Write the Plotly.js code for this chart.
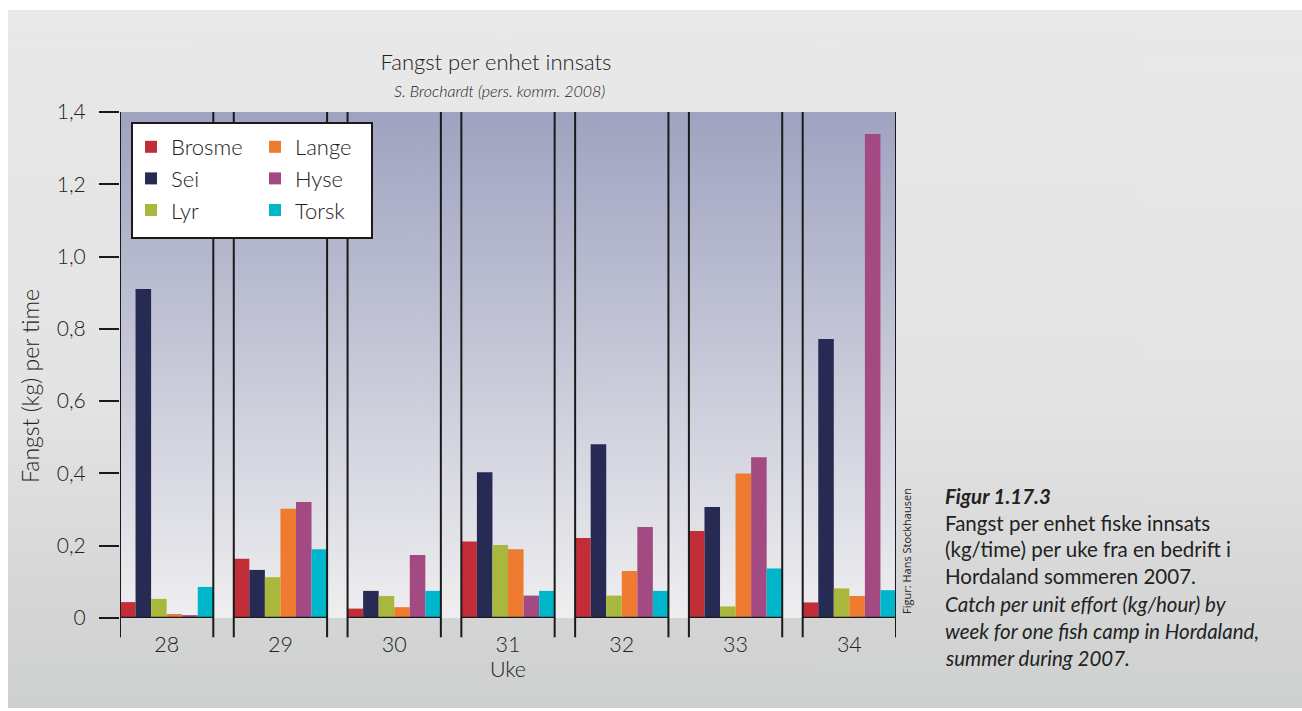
<!DOCTYPE html>
<html>
<head>
<meta charset="utf-8">
<script src="https://cdn.plot.ly/plotly-3.0.1.min.js"></script>
<style>html,body{margin:0;padding:0;background:#fff;}#chart{width:1302px;height:711px;}</style>
</head>
<body>
<div id="chart"></div>
<script>
// ---- data ----
var weeks = ['28', '29', '30', '31', '32', '33', '34'];
var brosme = [0.044, 0.164, 0.026, 0.212, 0.221, 0.241, 0.043];
var sei    = [0.910, 0.133, 0.075, 0.403, 0.481, 0.307, 0.772];
var lyr    = [0.053, 0.113, 0.061, 0.202, 0.062, 0.032, 0.082];
var lange  = [0.011, 0.302, 0.030, 0.190, 0.130, 0.400, 0.061];
var hyse   = [0.008, 0.321, 0.174, 0.062, 0.252, 0.445, 1.339];
var torsk  = [0.086, 0.190, 0.075, 0.075, 0.075, 0.137, 0.077];
var yTickVals = [0, 0.2, 0.4, 0.6, 0.8, 1.0, 1.2, 1.4];
var yTickText = ['0', '0,2', '0,4', '0,6', '0,8', '1,0', '1,2', '1,4'];

var W = 1302, H = 711;
var M = {l: 120, r: 406, t: 112, b: 93};
var pw = W - M.l - M.r, ph = H - M.t - M.b;
function px2x(px) { return (px - M.l) / pw; }
function px2y(py) { return (H - M.b - py) / ph; }

var FONT = 'Lato, "Open Sans", sans-serif';
var TXT = '#222222';

function gradURL(stops) {
  var c = document.createElement('canvas');
  c.width = 4; c.height = 256;
  var g = c.getContext('2d');
  var gr = g.createLinearGradient(0, 0, 0, 256);
  stops.forEach(function (s) { gr.addColorStop(s[0], s[1]); });
  g.fillStyle = gr; g.fillRect(0, 0, 4, 256);
  return c.toDataURL('image/png');
}

var series = [
  {name: 'Brosme', y: brosme, color: '#c12e38', legend: 'legend'},
  {name: 'Sei',    y: sei,    color: '#272b53', legend: 'legend'},
  {name: 'Lyr',    y: lyr,    color: '#a9b73d', legend: 'legend'},
  {name: 'Lange',  y: lange,  color: '#ef7b30', legend: 'legend2'},
  {name: 'Hyse',   y: hyse,   color: '#a44a83', legend: 'legend2'},
  {name: 'Torsk',  y: torsk,  color: '#00b6ca', legend: 'legend2'}
];

var traces = series.map(function (s) {
  return {
    type: 'bar', name: s.name, x: weeks, y: s.y,
    marker: {color: s.color, line: {width: 0}},
    legend: s.legend, hoverinfo: 'name+y'
  };
});

var half = 0.41;
var shapes = [];
weeks.forEach(function (w, i) {
  [i - half, i + half].forEach(function (xv) {
    shapes.push({type: 'line', xref: 'x', yref: 'paper', x0: xv, x1: xv,
      y0: -0.038, y1: 1, line: {color: '#1a1a1a', width: 2}, layer: 'above'});
  });
  shapes.push({type: 'line', xref: 'x', yref: 'y', x0: i - half, x1: i + half,
    y0: 0, y1: 0, line: {color: '#1a1a1a', width: 2.5}, layer: 'above'});
});
// legend box
shapes.push({type: 'rect', xref: 'paper', yref: 'paper',
  x0: px2x(132), x1: px2x(372), y0: px2y(238), y1: px2y(123),
  fillcolor: '#ffffff', line: {color: '#1a1a1a', width: 2}, layer: 'above'});

var capX = px2x(943);
var capLines = [
  ['<b><i>Figur 1.17.3</i></b>', 496],
  ['Fangst per enhet fiske innsats', 523],
  ['(kg/time) per uke fra en bedrift i', 549],
  ['Hordaland sommeren 2007.', 576],
  ['<i>Catch per unit effort (kg/hour) by</i>', 604],
  ['<i>week for one fish camp in Hordaland,</i>', 631],
  ['<i>summer during 2007.</i>', 658]
];
var annotations = capLines.map(function (l) {
  return {xref: 'paper', yref: 'paper', x: capX, y: px2y(l[1]), xanchor: 'left', yanchor: 'middle',
    text: l[0], showarrow: false, font: {family: FONT, size: 20.5, color: TXT}};
});
annotations.push({xref: 'paper', yref: 'paper', x: px2x(499), y: px2y(90), xanchor: 'center', yanchor: 'middle',
  text: '<i>S. Brochardt (pers. komm. 2008)</i>', showarrow: false,
  font: {family: FONT, size: 16, color: TXT, weight: 300}});
annotations.push({xref: 'paper', yref: 'paper', x: px2x(906), y: px2y(551), xanchor: 'center', yanchor: 'middle',
  text: 'Figur: Hans Stockhausen', textangle: -90, showarrow: false,
  font: {family: '"Open Sans", sans-serif', size: 11, color: TXT}});
// y-axis title (placed like the original, slightly below the axis centre)
annotations.push({xref: 'paper', yref: 'paper', x: px2x(30), y: px2y(386), xanchor: 'center', yanchor: 'middle',
  text: 'Fangst (kg) per time', textangle: -90, showarrow: false,
  font: {family: FONT, size: 23, color: TXT, weight: 300}});

var layout = {
  width: W, height: H,
  margin: M,
  paper_bgcolor: '#ffffff',
  plot_bgcolor: 'rgba(0,0,0,0)',
  font: {family: FONT, color: TXT},
  title: {text: 'Fangst per enhet innsats', xref: 'container', yref: 'container',
    x: 496 / W, y: 1 - 62 / H, xanchor: 'center', yanchor: 'middle',
    font: {family: FONT, size: 22, color: TXT, weight: 300}},
  barmode: 'group', bargap: 0.18, bargroupgap: 0,
  xaxis: {type: 'category', range: [-half, weeks.length - 1 + half], showline: false, showgrid: false,
    zeroline: false, ticks: '', tickfont: {family: FONT, size: 21.5, color: TXT, weight: 300},
    ticklabelstandoff: 11,
    title: {text: 'Uke', standoff: 0, font: {family: FONT, size: 21.5, color: TXT, weight: 300}}},
  yaxis: {range: [0, 1.4], tickvals: yTickVals, ticktext: yTickText, showline: false, showgrid: false,
    zeroline: false, ticks: 'outside', ticklen: 20, tickwidth: 2, tickcolor: '#1a1a1a',
    ticklabelstandoff: 9,
    tickfont: {family: FONT, size: 21, color: TXT, weight: 300}},
  legend: {x: px2x(131), y: px2y(126), xanchor: 'left', yanchor: 'top', bgcolor: 'rgba(0,0,0,0)',
    borderwidth: 0, font: {family: FONT, size: 22, color: TXT, weight: 300}, tracegroupgap: 0},
  legend2: {x: px2x(255), y: px2y(126), xanchor: 'left', yanchor: 'top', bgcolor: 'rgba(0,0,0,0)',
    borderwidth: 0, font: {family: FONT, size: 22, color: TXT, weight: 300}, tracegroupgap: 0},
  showlegend: true,
  shapes: shapes,
  annotations: annotations,
  images: [
    {source: gradURL([[0, '#e9e9e9'], [0.55, '#e4e4e4'], [1, '#cecfcf']]), xref: 'paper', yref: 'paper',
      x: px2x(8), y: px2y(10), sizex: (W - 8) / pw, sizey: (708 - 10) / ph,
      xanchor: 'left', yanchor: 'top', sizing: 'stretch', layer: 'below'},
    {source: gradURL([[0, '#9fa3c0'], [1, '#efeff0']]), xref: 'paper', yref: 'paper',
      x: 0, y: 1, sizex: 1, sizey: 1, xanchor: 'left', yanchor: 'top', sizing: 'stretch', layer: 'below'}
  ]
};

Plotly.newPlot('chart', traces, layout, {displayModeBar: false, staticPlot: true});
</script>
</body>
</html>
